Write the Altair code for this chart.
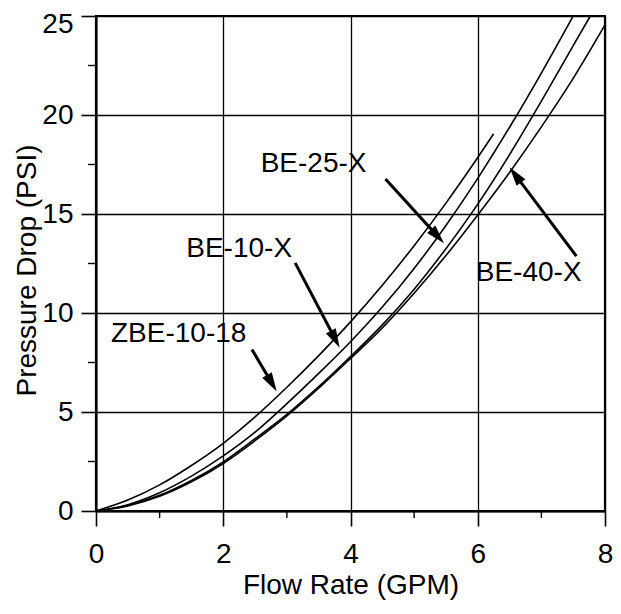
import math
import altair as alt
import pandas as pd

# ---- data ----
series_names = ["ZBE-10-18", "BE-10-X", "BE-25-X", "BE-40-X"]
x_zbe = [0, 0.5, 1, 1.5, 2, 2.5, 3, 3.5, 4, 4.5, 5, 5.5, 6, 6.25]
y_zbe = [0, 0.55, 1.32, 2.3, 3.42, 4.75, 6.25, 7.85, 9.55, 11.4, 13.4, 15.55, 17.85, 19.05]
x_be10 = [0, 0.5, 1, 1.5, 2, 2.5, 3, 3.5, 4, 4.5, 5, 5.5, 6, 6.5, 7, 7.5]
y_be10 = [0, 0.32, 0.92, 1.76, 2.78, 3.98, 5.42, 6.95, 8.55, 10.3, 12.25, 14.42, 16.8, 19.38, 22.12, 25.0]
x_be25 = [0, 0.5, 1, 1.5, 2, 2.5, 3, 3.5, 4, 4.5, 5, 5.5, 6, 6.5, 7, 7.5, 7.77]
y_be25 = [0, 0.28, 0.79, 1.54, 2.48, 3.65, 4.88, 6.28, 7.8, 9.4, 11.2, 13.25, 15.5, 18.0, 20.7, 23.5, 25.0]
x_be40 = [0, 0.5, 1, 1.5, 2, 2.5, 3, 3.5, 4, 4.5, 5, 5.5, 6, 6.5, 7, 7.5, 8]
y_be40 = [0, 0.26, 0.74, 1.47, 2.4, 3.55, 4.8, 6.2, 7.7, 9.25, 11.0, 12.9, 14.95, 17.1, 19.4, 21.85, 24.55]

label_x = [1.30, 2.25, 3.42, 6.80]
label_y = [8.93, 13.22, 17.52, 12.02]
arrow_x0 = [2.45, 3.13, 4.55, 7.55]
arrow_y0 = [8.16, 12.53, 16.77, 12.87]
arrow_x1 = [2.84, 3.83, 5.47, 6.50]
arrow_y1 = [6.04, 8.25, 13.52, 17.36]

x_major = [0, 2, 4, 6, 8]
x_minor = [1, 3, 5, 7]
y_major = [0, 5, 10, 15, 20, 25]
y_minor = [2.5, 7.5, 12.5, 17.5, 22.5]

# ---- layout ----
W, H = 509, 495
XMAX, YMAX = 8, 25
PX = W / XMAX
PY = H / YMAX
FONT = "Liberation Sans"

rows = []
for name, xs, ys in zip(series_names,
                        [x_zbe, x_be10, x_be25, x_be40],
                        [y_zbe, y_be10, y_be25, y_be40]):
    for i, (a, b) in enumerate(zip(xs, ys)):
        rows.append({"series": name, "order": i, "x": a, "y": b})
curves = pd.DataFrame(rows)

labels = pd.DataFrame({"label": series_names, "x": label_x, "y": label_y})

head_len = 19.0
arows = []
for x0, y0, x1, y1 in zip(arrow_x0, arrow_y0, arrow_x1, arrow_y1):
    dxp = (x1 - x0) * PX
    dyp = -(y1 - y0) * PY
    L = math.hypot(dxp, dyp)
    ux, uy = dxp / L, dyp / L
    ang = math.degrees(math.atan2(ux, -uy)) % 360
    back = head_len * 0.6
    ex = x1 - ux * back / PX
    ey = y1 + uy * back / PY
    arows.append({"x0": x0, "y0": y0, "ex": ex, "ey": ey,
                  "tx": x1, "ty": y1, "angle": ang})
arrows = pd.DataFrame(arows)

xscale = alt.Scale(domain=[0, XMAX], nice=False, zero=False)
yscale = alt.Scale(domain=[0, YMAX], nice=False, zero=False)

x_axis = alt.Axis(values=x_major, grid=True, gridColor="black", gridWidth=1.3,
                  gridOpacity=1, tickSize=15, tickColor="black", tickWidth=1.6,
                  domainColor="black", domainWidth=2, labelFont=FONT,
                  labelFontSize=28, labelColor="black", labelPadding=14,
                  labelFlush=False, labelOverlap=False,
                  title="Flow Rate (GPM)", titleFont=FONT, titleFontSize=28,
                  titleFontWeight="normal", titleColor="black",
                  titleBaseline="alphabetic", titleY=82, titleX=W / 2,
                  titleAlign="center")
y_axis = alt.Axis(values=y_major, grid=True, gridColor="black", gridWidth=1.3,
                  gridOpacity=1, tickSize=15, tickColor="black", tickWidth=1.6,
                  domainColor="black", domainWidth=2, labelFont=FONT,
                  labelFontSize=28, labelColor="black", labelPadding=8,
                  labelOffset={"condition": {"test": "datum.value >= 25", "value": 8},
                               "value": 0},
                  labelFlush=False, labelOverlap=False,
                  title="Pressure Drop (PSI)", titleFont=FONT, titleFontSize=28,
                  titleFontWeight="normal", titleColor="black",
                  titleAngle=270, titleBaseline="alphabetic", titleX=-61,
                  titleY=254, titleAlign="center")


def X(field):
    return alt.X(field, type="quantitative", scale=xscale, axis=x_axis)


def Y(field):
    return alt.Y(field, type="quantitative", scale=yscale, axis=y_axis)


lines = alt.Chart(curves).mark_line(color="black", strokeWidth=1.6,
                                    interpolate="monotone").encode(
    x=X("x"), y=Y("y"), detail="series:N", order="order:Q")

xminor = alt.Chart(pd.DataFrame({"v": x_minor})).mark_rule(
    color="black", strokeWidth=1.4).encode(
    x=X("v"), y=alt.value(H), y2=alt.value(H + 7))

yminor = alt.Chart(pd.DataFrame({"v": y_minor})).mark_rule(
    color="black", strokeWidth=1.4).encode(
    y=Y("v"), x=alt.value(-8), x2=alt.value(0))

text = alt.Chart(labels).mark_text(font=FONT, fontSize=28, color="black",
                                   align="center", baseline="middle").encode(
    x=X("x"), y=Y("y"), text="label:N")

shafts = alt.Chart(arrows).mark_rule(color="black", strokeWidth=3).encode(
    x=X("x0"), y=Y("y0"), x2="ex:Q", y2="ey:Q")

heads = alt.Chart(arrows).mark_point(
    shape="M0,0 L0.29,1 L-0.29,1 Z", size=(2 * head_len) ** 2,
    filled=True, color="black", opacity=1, strokeWidth=0).encode(
    x=X("tx"), y=Y("ty"),
    angle=alt.Angle("angle:Q", scale=None))

chart = alt.layer(lines, xminor, yminor, text, shafts, heads).properties(
    width=W, height=H,
    autosize=alt.AutoSizeParams(type="none"),
    padding={"left": 88, "top": 8, "right": 8, "bottom": 89},
    background="white",
).configure_view(stroke="black", strokeWidth=2.2)

chart.save("out.html", embed_options={"renderer": "svg", "actions": False})
